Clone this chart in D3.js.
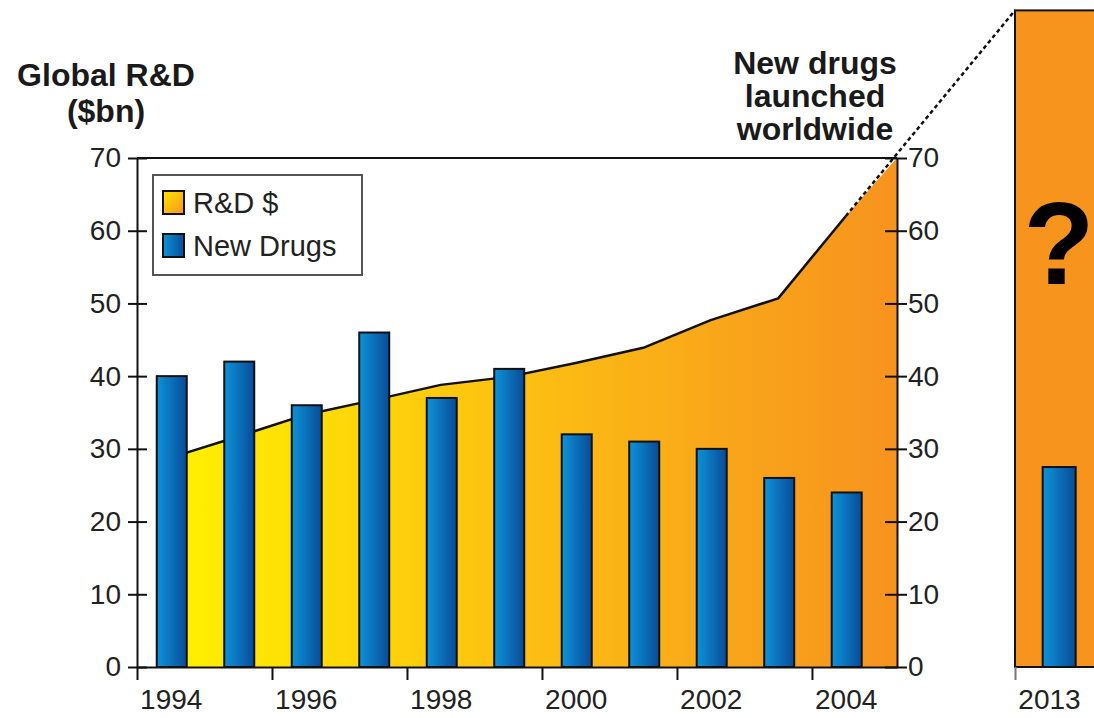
<!DOCTYPE html>
<html>
<head>
<meta charset="utf-8">
<script src="https://cdn.jsdelivr.net/npm/d3@7"></script>
<style>
  body { margin: 0; background: #fff; }
  svg { display: block; font-family: Arial, "Liberation Sans", sans-serif; }
</style>
</head>
<body>
<svg id="chart" width="1094" height="718"></svg>
<script>
// data
var years = [1994, 1995, 1996, 1997, 1998, 1999, 2000, 2001, 2002, 2003, 2004];
var newDrugs = [40, 42, 36, 46, 37, 41, 32, 31, 30, 26, 24];
var rdSpend = [28.8, 31.7, 34.7, 36.7, 38.8, 39.9, 41.8, 43.9, 47.7, 50.7, 62];
var rdEdge = 70;            // where the R&D area meets the right axis
var yTicks = [0, 10, 20, 30, 40, 50, 60, 70];
var xTickYears = [1994, 1996, 1998, 2000, 2002, 2004];
var insetYear = 2013;
var insetDrugs = 27.5;
var insetRd = 90.3;

var svg = d3.select("#chart");
var ink = "#111";

// scales
var y = d3.scaleLinear().domain([0, 70]).range([667, 158]);
var x = d3.scaleLinear().domain([1994, 2005.26]).range([137, 897]);
var xInset = d3.scaleLinear().domain([insetYear, insetYear + 1]).range([1015, 1082.5]);

// gradients
var defs = svg.append("defs");
var rdGrad = defs.append("linearGradient")
  .attr("id", "rdGrad")
  .attr("gradientUnits", "userSpaceOnUse")
  .attr("x1", x(1994.5)).attr("x2", x(2005.26)).attr("y1", 0).attr("y2", 0);
rdGrad.append("stop").attr("offset", "0%").attr("stop-color", "#fff100");
rdGrad.append("stop").attr("offset", "40%").attr("stop-color", "#fdc70f");
rdGrad.append("stop").attr("offset", "75%").attr("stop-color", "#f9a71a");
rdGrad.append("stop").attr("offset", "100%").attr("stop-color", "#f7931e");

var barGrad = defs.append("linearGradient").attr("id", "barGrad")
  .attr("x1", "0%").attr("x2", "100%").attr("y1", "0%").attr("y2", "0%");
barGrad.append("stop").attr("offset", "0%").attr("stop-color", "#0c93d8");
barGrad.append("stop").attr("offset", "100%").attr("stop-color", "#0a4b98");

var swGrad = defs.append("linearGradient").attr("id", "swGrad")
  .attr("x1", "0%").attr("x2", "100%").attr("y1", "0%").attr("y2", "100%");
swGrad.append("stop").attr("offset", "0%").attr("stop-color", "#ffe600");
swGrad.append("stop").attr("offset", "100%").attr("stop-color", "#f7931e");

// R&D area
var pts = years.map(function(yr, i) { return { t: yr + 0.5, v: rdSpend[i] }; });
var areaPts = pts.concat([{ t: 2005.26, v: rdEdge }]);

svg.append("path")
  .datum(areaPts)
  .attr("fill", "url(#rdGrad)")
  .attr("d", d3.area()
    .x(function(d) { return x(d.t); })
    .y0(y(0))
    .y1(function(d) { return y(d.v); }));

svg.append("path")
  .datum(pts)
  .attr("fill", "none")
  .attr("stroke", ink)
  .attr("stroke-width", 2.5)
  .attr("stroke-linejoin", "round")
  .attr("d", d3.line()
    .x(function(d) { return x(d.t); })
    .y(function(d) { return y(d.v); }));

// inset panel for 2013
svg.append("rect")
  .attr("x", xInset(insetYear))
  .attr("y", y(insetRd))
  .attr("width", 120)
  .attr("height", y(0) - y(insetRd))
  .attr("fill", "#f7941d")
  .attr("stroke", ink)
  .attr("stroke-width", 2);

// dashed projection
var last = pts[pts.length - 1];
svg.append("line")
  .attr("x1", x(last.t)).attr("y1", y(last.v))
  .attr("x2", xInset(insetYear)).attr("y2", y(insetRd))
  .attr("stroke", ink)
  .attr("stroke-width", 2.5)
  .attr("stroke-dasharray", "4,3");

// bars
svg.append("g")
  .selectAll("rect")
  .data(years)
  .enter()
  .append("rect")
  .attr("x", function(d) { return x(d + 0.5) - 14; })
  .attr("width", 30)
  .attr("y", function(d, i) { return y(newDrugs[i]); })
  .attr("height", function(d, i) { return y(0) - y(newDrugs[i]); })
  .attr("fill", "url(#barGrad)")
  .attr("stroke", ink)
  .attr("stroke-width", 2);

svg.append("rect")
  .attr("x", xInset(insetYear + 0.41))
  .attr("width", 33)
  .attr("y", y(insetDrugs))
  .attr("height", y(0) - y(insetDrugs))
  .attr("fill", "url(#barGrad)")
  .attr("stroke", ink)
  .attr("stroke-width", 2);

svg.append("text")
  .attr("x", 1059)
  .attr("y", 284)
  .attr("text-anchor", "middle")
  .attr("font-size", 116)
  .attr("font-weight", "bold")
  .attr("fill", "#000")
  .text("?");

// axes
function styleAxis(g) {
  g.attr("font-family", null);
  g.selectAll("path, line").attr("stroke", ink).attr("stroke-width", 2);
  g.selectAll("text").attr("fill", "#222").attr("font-size", 28);
}

// top border of the plot
svg.append("line")
  .attr("x1", x(1994)).attr("x2", x(2005.26))
  .attr("y1", y(70)).attr("y2", y(70))
  .attr("stroke", ink).attr("stroke-width", 2);

svg.append("g")
  .attr("transform", "translate(" + x(1994) + ",0)")
  .call(d3.axisLeft(y).tickValues(yTicks).tickSize(9).tickSizeOuter(0).tickPadding(7))
  .call(styleAxis)
  .call(function(g) { g.selectAll(".tick line").attr("x2", 10).attr("x1", -9); });

svg.append("g")
  .attr("transform", "translate(" + x(2005.26) + ",0)")
  .call(d3.axisRight(y).tickValues(yTicks).tickSize(10).tickSizeOuter(0).tickPadding(1))
  .call(styleAxis)
  .call(function(g) { g.selectAll(".tick line").attr("x1", -12).attr("x2", 10); });

svg.append("g")
  .attr("transform", "translate(0," + y(0) + ")")
  .call(d3.axisBottom(x).tickValues(xTickYears).tickFormat(d3.format("d")).tickSize(13).tickSizeOuter(0).tickPadding(9))
  .call(styleAxis)
  .call(function(g) { g.selectAll(".tick text").attr("x", 33.75); });

svg.append("g")
  .attr("transform", "translate(0," + y(0) + ")")
  .call(d3.axisBottom(xInset).tickValues([insetYear]).tickFormat(d3.format("d")).tickSize(13).tickSizeOuter(0).tickPadding(9))
  .call(styleAxis)
  .call(function(g) {
    g.select(".domain").attr("d", "M" + xInset(insetYear) + ",0H1094");
    g.selectAll(".tick line").attr("stroke", "#777");
    g.selectAll(".tick text").attr("x", 34);
  });

// titles
var leftTitle = ["Global R&D", "($bn)"];
svg.append("text")
  .attr("x", 106).attr("y", 86)
  .attr("text-anchor", "middle")
  .attr("font-size", 32)
  .attr("font-weight", "bold")
  .attr("fill", "#1a1a1a")
  .selectAll("tspan")
  .data(leftTitle)
  .enter()
  .append("tspan")
  .attr("x", 106)
  .attr("dy", function(d, i) { return i ? 36 : 0; })
  .text(function(d) { return d; });

var rightTitle = ["New drugs", "launched", "worldwide"];
svg.append("text")
  .attr("x", 815).attr("y", 74)
  .attr("text-anchor", "middle")
  .attr("font-size", 32)
  .attr("font-weight", "bold")
  .attr("fill", "#1a1a1a")
  .selectAll("tspan")
  .data(rightTitle)
  .enter()
  .append("tspan")
  .attr("x", 815)
  .attr("dy", function(d, i) { return i ? 33 : 0; })
  .text(function(d) { return d; });

// legend
var legendItems = ["R&D $", "New Drugs"];
var legendFills = ["url(#swGrad)", "url(#barGrad)"];
var legend = svg.append("g");
legend.append("rect")
  .attr("x", 153).attr("y", 175)
  .attr("width", 209).attr("height", 100)
  .attr("fill", "#fff")
  .attr("stroke", "#555")
  .attr("stroke-width", 2);
var li = legend.selectAll("g.item")
  .data(legendItems)
  .enter()
  .append("g")
  .attr("class", "item")
  .attr("transform", function(d, i) { return "translate(163," + (191 + i * 43) + ")"; });
li.append("rect")
  .attr("width", 21).attr("height", 23)
  .attr("fill", function(d, i) { return legendFills[i]; })
  .attr("stroke", ink)
  .attr("stroke-width", 2);
li.append("text")
  .attr("x", 30).attr("y", 22)
  .attr("font-size", 29)
  .attr("fill", "#222")
  .text(function(d) { return d; });
</script>
</body>
</html>
